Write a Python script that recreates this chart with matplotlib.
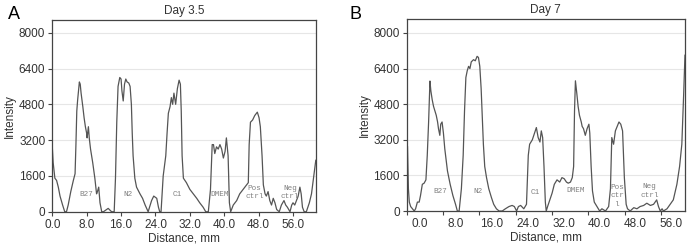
import matplotlib.pyplot as plt
import numpy as np

# Day 3.5 profile (distance in mm, intensity)
dist_a = [0.0, 0.2, 0.5, 0.6, 1.0, 1.4, 1.8, 2.4, 2.9, 3.3, 3.7, 4.3, 4.9, 5.3, 5.5, 5.7, 5.9, 6.1,
          6.3, 6.5, 6.7, 7.1, 7.4, 7.7, 8.0, 8.1, 8.4, 8.6, 8.9, 9.4, 9.9, 10.3, 10.5, 10.8, 11.1,
          11.5, 11.9, 13.0, 13.8, 14.4, 14.7, 15.0, 15.3, 15.7, 16.0, 16.2, 16.5, 16.8, 17.1, 17.4,
          17.8, 18.1, 18.4, 18.6, 18.8, 19.2, 19.6, 20.4, 21.0, 21.6, 22.3, 23.1, 23.6, 24.3, 24.7,
          25.0, 25.3, 25.8, 26.4, 26.7, 27.0, 27.4, 27.7, 28.0, 28.3, 28.7, 29.1, 29.5, 29.8, 30.0,
          30.2, 30.5, 31.2, 32.0, 32.8, 33.6, 34.3, 35.1, 35.7, 36.3, 36.8, 37.2, 37.5, 37.8, 38.2,
          38.6, 39.0, 39.4, 39.8, 40.2, 40.5, 40.9, 41.2, 41.5, 42.1, 42.9, 43.6, 44.4, 45.2, 45.6,
          45.8, 46.1, 46.6, 47.1, 47.7, 48.1, 48.4, 48.8, 49.1, 49.5, 49.8, 50.2, 50.6, 51.0, 51.4,
          51.8, 52.2, 52.8, 53.3, 53.9, 54.3, 54.7, 55.3, 55.7, 56.0, 56.4, 56.8, 57.2, 57.6, 57.9,
          58.2, 58.6, 59.1, 59.8, 60.3, 60.7, 61.1, 61.3]
int_a = [2900, 2200, 1700, 1500, 1400, 1100, 700, 300, 0, 0, 300, 900, 1400, 1700, 3000, 4500, 5000, 5400,
         5800, 5700, 5300, 4700, 4200, 3800, 3500, 3300, 3800, 3300, 2800, 2200, 1500, 800, 900, 1100, 400,
         0, 0, 150, 0, 0, 1500, 4000, 5600, 6000, 5930, 5400, 4950, 5700, 5930, 5800,
         5750, 5600, 4800, 3500, 2500, 1500, 1100, 800, 600, 300, 0, 500, 700, 600, 200,
         0, 0, 1600, 2500, 3500, 4400, 4700, 5100, 4800, 5300, 4800, 5500, 5880, 5700, 4500,
         2500, 1500, 1300, 1000, 800, 600, 400, 200, 0, 0, 1000, 3000, 3000, 2600, 2900,
         2800, 3000, 2800, 2400, 2700, 3300, 2500, 400, 0, 300, 500, 800, 1000, 1200, 1300,
         3000, 4000, 4100, 4300, 4450, 4200, 3800, 2500, 1200, 800, 700, 900, 500, 300, 600,
         400, 100, 0, 300, 500, 300, 200, 0, 300, 400, 300, 500, 700, 1100, 800,
         200, 0, 0, 400, 800, 1400, 2000, 2300]

# Day 7 profile
dist_b = [-3.0, -2.8, -2.6, -2.4, -2.1, -1.7, -1.3, -1.0, -0.6, -0.2, 0.1, 0.5, 0.9, 1.3, 1.6, 1.9, 2.1,
          2.2, 2.4, 2.7, 3.0, 3.3, 3.6, 3.9, 4.1, 4.4, 4.6, 4.9, 5.2, 5.5, 6.1, 6.7, 7.3, 7.9, 8.3, 8.7,
          9.2, 9.6, 9.9, 10.2, 10.5, 10.8, 11.1, 11.4, 11.9, 12.3, 12.7, 13.0, 13.3, 13.6, 13.9, 14.1,
          14.4, 14.8, 15.3, 15.9, 16.4, 17.0, 17.6, 18.3, 19.0, 19.8, 20.5, 21.0, 21.5, 21.9, 22.4,
          23.1, 23.7, 24.1, 24.4, 25.0, 25.5, 25.9, 26.3, 26.7, 27.0, 27.3, 27.6, 27.9, 28.1, 28.4,
          28.9, 29.4, 29.9, 30.5, 31.1, 31.6, 32.1, 32.6, 33.0, 33.5, 33.9, 34.2, 34.4, 34.6, 34.9,
          35.2, 35.5, 35.9, 36.1, 36.4, 36.8, 37.2, 37.6, 37.8, 38.1, 38.4, 38.8, 39.4, 40.0, 40.5,
          41.3, 42.0, 42.4, 42.7, 43.1, 43.5, 43.9, 44.3, 44.7, 45.1, 45.5, 45.9, 46.2, 46.8, 47.6,
          48.3, 49.0, 49.8, 50.5, 51.3, 52.0, 52.7, 53.1, 53.5, 53.9, 54.2, 55.0, 55.7, 56.4, 57.2,
          57.8, 58.3, 58.7, 59.0]
int_b = [3000, 2900, 1000, 400, 200, 100, 0, 100, 400, 400, 700, 1200, 1250, 1400, 2500, 4000, 5300,
         5840, 5400, 5000, 4700, 4500, 4300, 4000, 3700, 3400, 3900, 4000, 3500, 2800, 1800, 1200, 700, 300, 0, 0,
         1000, 2500, 4500, 6000, 6300, 6500, 6400, 6700, 6800, 6750, 6950, 6900, 6500, 5500, 4000, 3000,
         2000, 1500, 1000, 600, 300, 100, 0, 0, 100, 200, 250, 200, 0, 200, 250,
         100, 300, 2500, 3000, 3200, 3500, 3750, 3300, 3100, 3600, 3300, 2000, 400, 0, 200,
         500, 800, 1200, 1400, 1300, 1500, 1450, 1300, 1250, 1300, 1500, 2000, 4500, 5850, 5300,
         4700, 4300, 4000, 3800, 3700, 3400, 3700, 3900, 3500, 2000, 900, 400, 200, 0, 100,
         0, 200, 1000, 3300, 3000, 3600, 3800, 4000, 3900, 3600, 1500, 300, 100, 0, 150,
         100, 200, 250, 350, 250, 300, 500, 200, 0, 100, 0, 100, 300, 500, 1200,
         2000, 3000, 5200, 7000]

lanes = ["B27", "N2", "C1", "DMEM", "Pos\nctrl", "Neg\nctrl"]
lanes_b = ["B27", "N2", "C1", "DMEM", "Pos\nctr\nl", "Neg\nctrl"]
lane_x_a = [7.8, 17.7, 29.1, 39.0, 47.1, 55.3]
lane_y_a = [780, 780, 780, 780, 850, 850]
lane_x_b = [4.4, 13.0, 25.7, 34.7, 43.9, 51.1]
lane_y_b = [860, 860, 820, 900, 690, 890]

xticks = [0, 8, 16, 24, 32, 40, 48, 56]
yticks = [0, 1600, 3200, 4800, 6400, 8000]

plt.rcParams['font.family'] = ['Liberation Sans', 'DejaVu Sans']
fig = plt.figure(figsize=(6.88, 2.5), dpi=100)
ax1 = fig.add_axes([0.076, 0.153, 0.383, 0.769])
ax2 = fig.add_axes([0.591, 0.156, 0.4046, 0.770])

lc = '#555555'
for ax, d, v, names, lx, ly, ttl in [
        (ax1, dist_a, int_a, lanes, lane_x_a, lane_y_a, "Day 3.5"),
        (ax2, dist_b, int_b, lanes_b, lane_x_b, lane_y_b, "Day 7")]:
    ax.plot(d, v, color=lc, lw=0.9)
    ax.set_yticks(yticks)
    ax.set_yticklabels([str(t) for t in yticks], fontsize=8.5, color='#333333')
    ax.set_xticks(xticks)
    ax.set_xticklabels(["%.1f" % t for t in xticks], fontsize=8.5, color='#333333')
    for t in yticks[1:]:
        ax.axhline(t, color='#e6e6e6', lw=0.8, zorder=0)
    ax.set_xlabel("Distance, mm", fontsize=8.5, labelpad=1, color='#333333')
    ax.set_ylabel("Intensity", fontsize=8.5, labelpad=2, color='#333333')
    ax.set_title(ttl, fontsize=8.5, pad=4, color='#333333')
    ax.tick_params(direction='out', length=3, width=0.8, pad=2, color='#444444')
    for s in ax.spines.values():
        s.set_color('#444444')
        s.set_linewidth(0.9)
    for n, x, y in zip(names, lx, ly):
        ax.text(x, y, n, fontsize=5.5, family='Liberation Mono', color='#808080',
                ha='center', va='center', linespacing=1.3)

ax1.set_xlim(0, 61.3)
ax1.set_ylim(0, 8590)
ax2.set_xlim(-3.0, 59.0)
ax2.set_ylim(0, 8650)
# day 7 tick marks sit left of their labels in the source figure
ax2.tick_params(axis='x', which='major', length=0, pad=5)
ax2.set_xticks(np.arange(-3.0, 57.0, 8.1), minor=True)
ax2.tick_params(axis='x', which='minor', direction='out', length=3, width=0.8, color='#444444')

fig.text(0.012, 0.925, "A", fontsize=13)
fig.text(0.508, 0.925, "B", fontsize=13)

fig.savefig("out.png", dpi=100)
